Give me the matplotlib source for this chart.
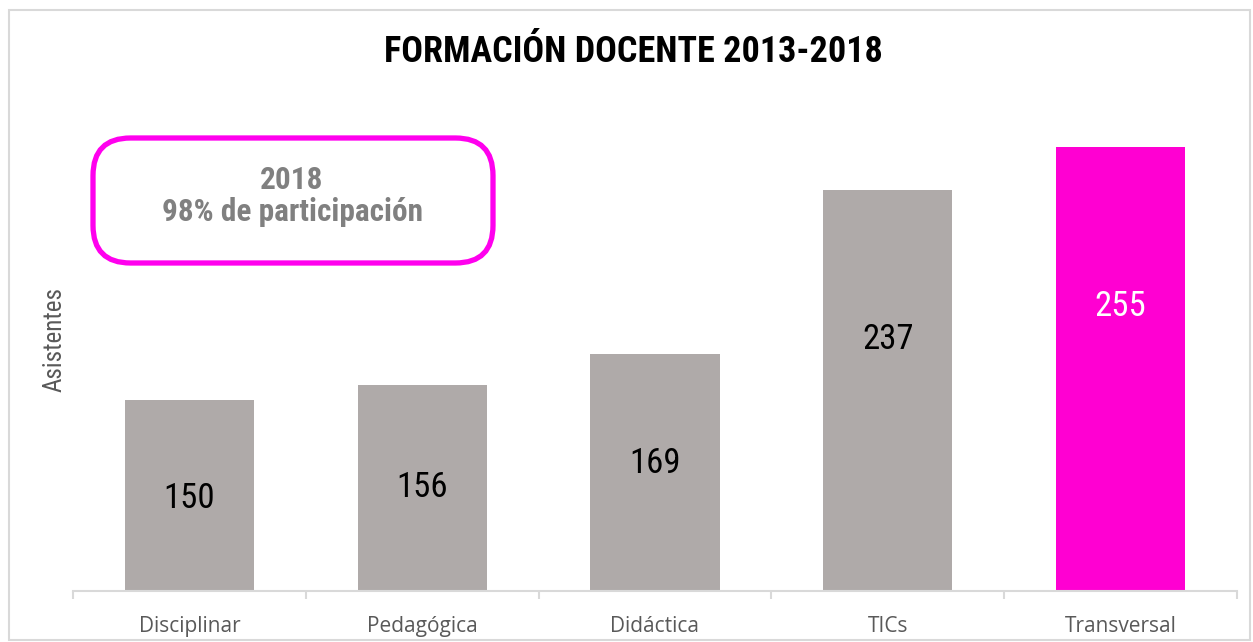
import matplotlib
matplotlib.use("Agg")
import matplotlib.pyplot as plt
from matplotlib.patches import FancyBboxPatch, Rectangle
from matplotlib import font_manager

categories = ["Disciplinar", "Pedagógica", "Didáctica", "TICs", "Transversal"]
values = [150, 156, 169, 237, 255]
bar_colors = ["#AFAAA9", "#AFAAA9", "#AFAAA9", "#AFAAA9", "#FF00D2"]
label_colors = ["black", "black", "black", "black", "white"]
title = "FORMACIÓN DOCENTE 2013-2018"
box_text = "2018\n98% de participación"
ylabel = "Asistentes"

names = {f.name for f in font_manager.fontManager.ttflist}
narrow = "Liberation Sans Narrow" if "Liberation Sans Narrow" in names else "Roboto Condensed" if "Roboto Condensed" in names else "Liberation Sans"
tickfont = "Open Sans" if "Open Sans" in names else "DejaVu Sans"

W, H = 1253, 642
fig = plt.figure(figsize=(W / 100, H / 100), dpi=100)

def fx(px):
    return px / W

def fy(py):
    return 1 - py / H

# chart border
fig.patches.append(Rectangle((fx(9), fy(640)), fx(1250 - 9), 630 / H,
                             transform=fig.transFigure, fill=False,
                             edgecolor="#D9D9D9", linewidth=1.5))

ax_left, ax_right, ax_bottom, ax_top = 73, 1237, 591, 100
ax = fig.add_axes([fx(ax_left), fy(ax_bottom), fx(ax_right - ax_left), (ax_bottom - ax_top) / H])

ymin = 70.7
scale = 253 / 105.0
ymax = ymin + (ax_bottom - ax_top) / scale
x = list(range(len(categories)))
ax.bar(x, values, width=0.555, color=bar_colors, zorder=2)
ax.set_xlim(-0.5, len(categories) - 0.5)
ax.set_ylim(ymin, ymax)

for xi, v, c in zip(x, values, label_colors):
    ax.text(xi, 0.759 * v - 4.8, str(v), ha="center", va="center",
            fontsize=25, color=c, family=narrow)

for s in ["top", "right", "left"]:
    ax.spines[s].set_visible(False)
ax.spines["bottom"].set_color("#D9D9D9")
ax.spines["bottom"].set_linewidth(1.5)
ax.set_yticks([])
ax.set_xticks([i - 0.5 for i in range(len(categories) + 1)], minor=False)
ax.set_xticklabels([])
ax.tick_params(axis="x", which="major", length=6, width=1.5, color="#D9D9D9")
ax.set_xticks(x, minor=True)
ax.set_xticklabels(categories, minor=True, fontsize=15, color="#595959", family=tickfont)
ax.tick_params(axis="x", which="minor", length=0, pad=18)
ax.set_facecolor("none")

fig.text(fx(633), fy(52), title, ha="center", va="center", fontsize=26,
         fontweight="bold", family=narrow, color="black")

fig.text(fx(55), fy(340), ylabel, ha="center", va="center", rotation=90,
         fontsize=18, family=narrow, color="#595959")

# rounded box
bx0, by0, bx1, by1 = 93, 138, 493, 263
fig.patches.append(FancyBboxPatch((fx(bx0), fy(by1)), fx(bx1 - bx0), (by1 - by0) / H,
                                  boxstyle="round,pad=0,rounding_size=0.03",
                                  transform=fig.transFigure, fill=False,
                                  edgecolor="#FF00EE", linewidth=3.8,
                                  mutation_aspect=W / H))
fig.text(fx(292), fy(196), box_text, ha="center", va="center", fontsize=22.5,
         fontweight="semibold", family=narrow, color="#808080", linespacing=1.1)

fig.savefig("out.png", dpi=100)
